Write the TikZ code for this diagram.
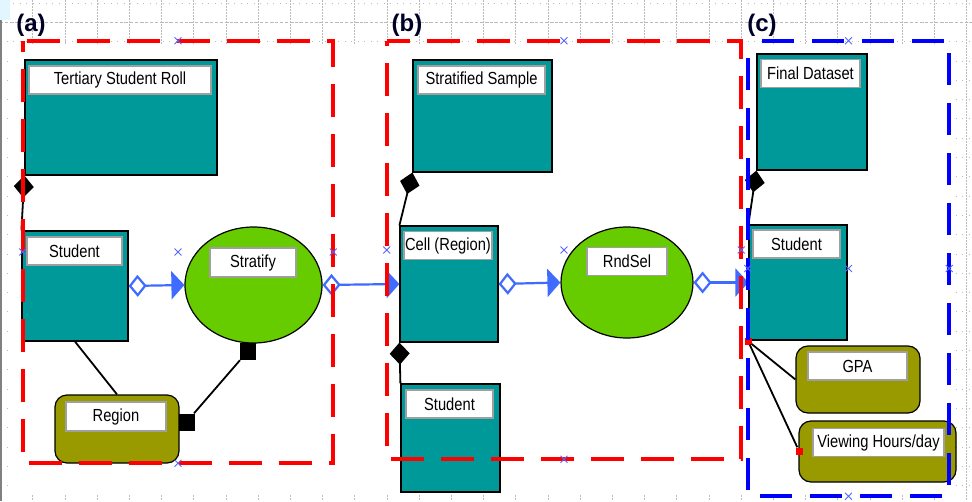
\documentclass[tikz,border=0pt]{standalone}
\usepackage{fontspec}
\setmainfont{Liberation Sans}
\newfontfamily\boxfont[FakeStretch=0.84]{Liberation Sans}
\usetikzlibrary{shapes.geometric,shapes.misc,arrows.meta}

\definecolor{tealbox}{HTML}{009999}
\definecolor{limefill}{HTML}{66CC00}
\definecolor{olivefill}{HTML}{999900}
\definecolor{linkblue}{HTML}{3F6BFF}
\definecolor{frameblue}{HTML}{0000FF}
\definecolor{framered}{HTML}{FF0000}
\definecolor{handleblue}{HTML}{5566FF}
\definecolor{gridgray}{HTML}{BBBBBB}
\definecolor{chrome}{HTML}{E2F6FF}

\tikzset{
  entity/.style={rectangle, draw=black, line width=1.2pt, fill=tealbox, inner sep=0pt},
  process/.style={ellipse, draw=black, line width=1.2pt, fill=limefill, inner sep=0pt},
  attribute/.style={rectangle, rounded corners=12pt, draw=black, line width=1.2pt, fill=olivefill, inner sep=0pt},
  caption/.style={rectangle, draw=gray!75, line width=1.5pt, fill=white, inner sep=0pt,
    minimum height=28pt, font=\boxfont\fontsize{17.5}{20}\selectfont},
  flow/.style={draw=linkblue, line width=2.2pt,
    {Diamond[open,length=18pt,width=22pt]}-{Triangle[length=13pt,width=28pt]}},
  part/.style={draw=black, line width=1.8pt, -{Diamond[length=22pt,width=20pt]}},
  link/.style={draw=black, line width=1.8pt},
  knob/.style={rectangle, fill=black, inner sep=0pt, minimum width=16pt, minimum height=17pt},
  redknob/.style={rectangle, fill=red, inner sep=0pt, minimum size=7pt},
  framebox/.style={rectangle, inner sep=0pt},
  groupred/.style={draw=framered, line width=4pt, dash pattern=on 33pt off 17pt},
  groupblue/.style={draw=frameblue, line width=4pt, dash pattern=on 32pt off 18pt},
  handle/.style={cross out, draw=handleblue, line width=0.9pt, minimum size=6pt, inner sep=0pt},
  panel/.style={font=\bfseries\fontsize{24}{28}\selectfont, text=black!85!blue, inner sep=0pt},
  gridv/.style={draw=gridgray, line width=0.7pt, dash pattern=on 1.5pt off 1.5pt},
  gridh/.style={draw=gridgray, line width=0.7pt, dash pattern=on 1pt off 5.5pt},
  gridmajor/.style={draw=gridgray, line width=0.7pt, dash pattern=on 3pt off 2pt},
}

\begin{document}
\begin{tikzpicture}[x=1pt,y=-1pt]
\useasboundingbox (0,0) rectangle (972,501);

% canvas with its grid, visible only along the margins
\fill[white] (0,0) rectangle (972,501);
\foreach \i in {0,...,30} \draw[gridv] ({0.6+32.2*\i},0) -- ({0.6+32.2*\i},501);
\foreach \j in {0,...,25} \draw[gridh] (0,{3+19.3*\j}) -- (972,{3+19.3*\j});
\draw[gridmajor] (0,22.3) -- (972,22.3);
\fill[white] (8,44) rectangle (953,494);
\fill[chrome] (0,0) rectangle (10,20);
\draw[gray, line width=1.5pt] (1,20) -- (1,501);

% (a) shapes
\node[entity, minimum width=192pt, minimum height=115pt] (tert) at (121,117.5) {};
\node[entity, minimum width=106pt, minimum height=110pt] (stuA) at (75,286) {};
\node[process, minimum width=137pt, minimum height=116pt] (strat) at (253.5,285) {};
\node[attribute, minimum width=124pt, minimum height=68pt] (region) at (117,429) {};

% (b) shapes
\node[entity, minimum width=139pt, minimum height=112pt] (stratS) at (482.5,116) {};
\node[entity, minimum width=98pt, minimum height=116pt] (cell) at (449,284) {};
\node[entity, minimum width=99pt, minimum height=108pt] (stuB) at (450.5,438) {};
\node[process, minimum width=132pt, minimum height=111pt] (rnd) at (627,282.5) {};

% (c) shapes
\node[entity, minimum width=110pt, minimum height=116pt] (final) at (812,112) {};
\node[entity, minimum width=98pt, minimum height=115pt] (stuC) at (798,282.5) {};
\node[attribute, minimum width=124pt, minimum height=67pt] (gpa) at (858,379.5) {};
\node[attribute, minimum width=157pt, minimum height=61pt] (view) at (877.5,451.5) {};

% name plates
\node[caption, minimum width=182pt] (tertT) at (120,80) {Tertiary Student Roll};
\node[caption, minimum width=95pt] (stuAT) at (74.5,251) {Student};
\node[caption, minimum width=86pt, minimum height=29pt] (stratT) at (253,262.5) {Stratify};
\node[caption, minimum width=100pt, minimum height=29pt] (regionT) at (116,416.5) {Region};
\node[caption, minimum width=127pt] (stratST) at (481.5,80) {Stratified Sample};
\node[caption, minimum width=88pt] (cellT) at (448,245.5) {Cell (Region)};
\node[caption, minimum width=80pt] (rndT) at (627,261.5) {RndSel};
\node[caption, minimum width=87pt] (stuBT) at (449.5,404) {Student};
\node[caption, minimum width=99pt] (finalT) at (810.5,73.5) {Final Dataset};
\node[caption, minimum width=87pt] (stuCT) at (796.5,244) {Student};
\node[caption, minimum width=99pt] (gpaT) at (857.5,366) {GPA};
\node[caption, minimum width=131pt] (viewT) at (878.5,442.5) {Viewing Hours/day};

% data flows
\draw[flow] (stuA.east) -- (strat.west);
\draw[flow] (strat.east) -- (cell.west);
\draw[flow] (cell.east) -- (rnd.west);
\draw[flow] (rnd.east) -- (stuC.west);

% compositions
\draw[part] (stuA.north west) -- (tert.south west);
\draw[part] (cell.north west) -- (stratS.south west);
\draw[part] (stuB.north west) -- (cell.south west);
\draw[part] (stuC.north west) -- (final.south west);

% plain links
\draw[link] (stuA.south) -- (region.north);
\node[knob] (k1) at (247.5,351.5) {};
\node[knob] (k2) at (186.5,422) {};
\draw[link] (k1) -- (k2);
\node[redknob] (r1) at (748,341) {};
\node[redknob] (r2) at (799,451) {};
\draw[link] (r1) -- (gpa.west);
\draw[link] (r1) -- (r2);

% group frames, each traced clockwise from its top left corner
\node[framebox, minimum width=310pt, minimum height=422pt] (grpA) at (178,252) {};
\node[framebox, minimum width=354pt, minimum height=418pt] (grpB) at (564,250) {};
\node[framebox, minimum width=201pt, minimum height=455pt] (grpC) at (848.5,268.5) {};
\draw[groupred, dash phase=46pt]
  (grpA.north west) -- (grpA.north east) -- (grpA.south east) -- (grpA.south west) -- cycle;
\draw[groupred, dash phase=10pt]
  (grpB.north west) -- (grpB.north east) -- (grpB.south east) -- (grpB.south west) -- cycle;
\draw[groupblue, dash phase=36pt]
  (grpC.north west) -- (grpC.north east) -- (grpC.south east) -- (grpC.south west) -- cycle;

% selection handles
\foreach \g in {grpA,grpB,grpC}
  \foreach \a in {north,west,center,east,south}
    \node[handle] at (\g.\a) {};

% panel letters
\node[panel] (labA) at (31,25) {(a)};
\node[panel] (labB) at (407,25) {(b)};
\node[panel] (labC) at (762,25) {(c)};
\end{tikzpicture}
\end{document}
